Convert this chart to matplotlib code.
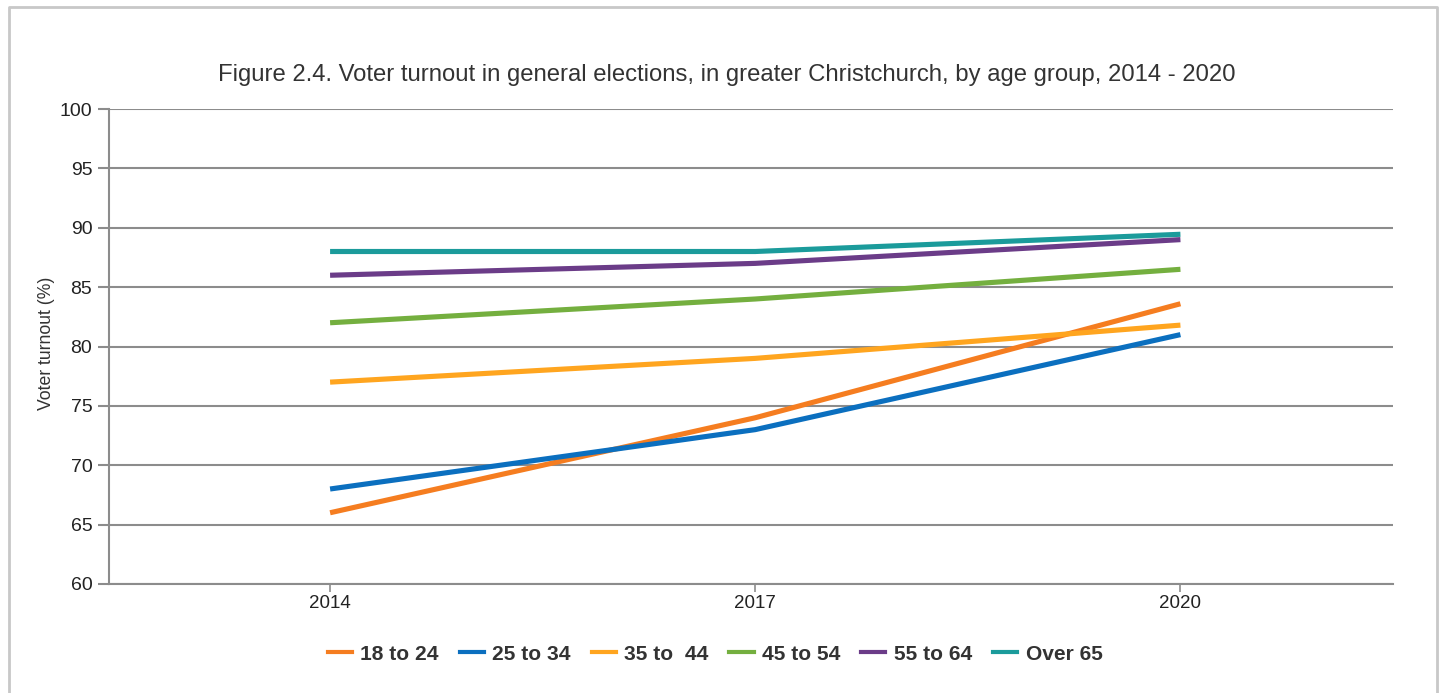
import matplotlib
matplotlib.use("Agg")
import matplotlib.pyplot as plt
from matplotlib.lines import Line2D

years = ["2014", "2017", "2020"]
series_names = ["18 to 24", "25 to 34", "35 to  44", "45 to 54", "55 to 64", "Over 65"]
age_18_24 = [66, 74, 83.6]
age_25_34 = [68, 73, 81.0]
age_35_44 = [77, 79, 81.8]
age_45_54 = [82, 84, 86.5]
age_55_64 = [86, 87, 89.0]
age_over_65 = [88, 88, 89.45]
colors = ["#F57D20", "#0B6FBF", "#FFA51F", "#74AF3F", "#6B3C88", "#1B9B9B"]

plt.rcParams['font.family'] = ['Liberation Sans', 'DejaVu Sans']

fig = plt.figure(figsize=(14.44, 6.93), dpi=100)
W, H = 1444, 693
ax = fig.add_axes([109 / W, 1 - 584 / H, (1393 - 109) / W, (584 - 109) / H])

all_series = [age_18_24, age_25_34, age_35_44, age_45_54, age_55_64, age_over_65]
x = list(range(len(years)))
for vals, c, name in zip(all_series, colors, series_names):
    ax.plot(x, vals, color=c, lw=3.7, solid_capstyle='butt', label=name, zorder=3)

ax.set_xlim(-0.52, 2.5)
ax.set_ylim(60, 100)
ax.set_yticks(range(60, 101, 5))
ax.set_xticks(x)
ax.set_xticklabels(years)
ax.grid(axis='y', color='#8c8c8c', lw=1.5, zorder=1)
for s in ['top', 'right']:
    ax.spines[s].set_visible(False)
for s in ['left', 'bottom']:
    ax.spines[s].set_color('#8c8c8c')
    ax.spines[s].set_linewidth(1.5)
ax.tick_params(axis='y', length=8, width=1.5, color='#8c8c8c', labelsize=14, labelcolor='#222222', pad=4)
ax.tick_params(axis='x', length=6, width=1.2, color='#8c8c8c', labelsize=13.5, labelcolor='#222222', pad=2)
ax.set_ylabel("Voter turnout (%)", fontsize=12.7, color='#333333')
ax.yaxis.set_label_coords(-0.042, 0.507)

fig.text(727 / W, 1 - 75 / H,
         "Figure 2.4. Voter turnout in general elections, in greater Christchurch, by age group, 2014 - 2020",
         ha='center', va='center', fontsize=17.2, color='#333333')

handles = [Line2D([0], [0], color=c, lw=3) for c in colors]
leg = fig.legend(handles, series_names, loc='center', bbox_to_anchor=(715 / W, 1 - 654 / H),
                 ncol=6, frameon=False, handlelength=1.15, handletextpad=0.4, columnspacing=1.0,
                 prop={'weight': 'bold', 'size': 15.1})
for t in leg.get_texts():
    t.set_color('#333333')

# outer border (left, top, right)
border = Line2D([9 / W, 9 / W, 1437 / W, 1437 / W], [0, 1 - 7 / H, 1 - 7 / H, 0],
                transform=fig.transFigure, color='#c8c8c8', lw=2)
fig.add_artist(border)

fig.savefig("out.png", dpi=100)
